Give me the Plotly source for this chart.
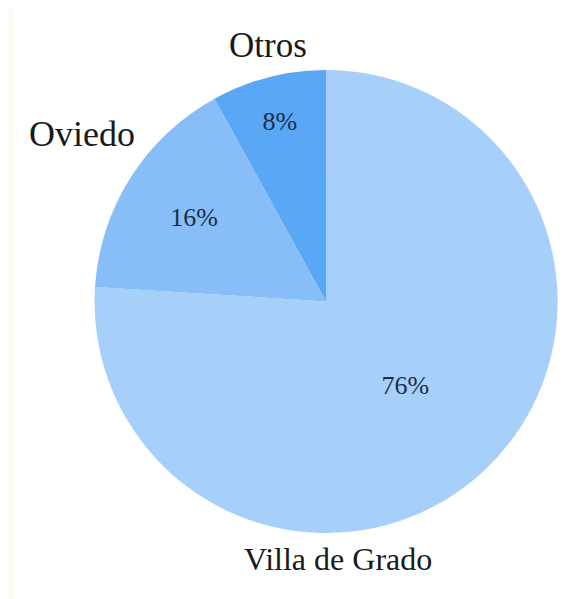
import plotly.graph_objects as go

labels = ["Villa de Grado", "Oviedo", "Otros"]
values = [76, 16, 8]
colors = ["#a6cffa", "#87bef8", "#5aa7f5"]

label_pos = {
    "Villa de Grado": (0.579, 0.080),
    "Oviedo": (0.130, 0.790),
    "Otros": (0.456, 0.938),
}
label_size = {"Villa de Grado": 32, "Oviedo": 36, "Otros": 35}

fig = go.Figure()
fig.add_trace(go.Pie(
    labels=labels,
    values=values,
    sort=False,
    direction="clockwise",
    rotation=0,
    marker=dict(colors=colors, line=dict(width=0)),
    textinfo="percent",
    texttemplate="%{percent:.0%}",
    textposition="inside",
    insidetextorientation="horizontal",
    textfont=dict(family="Liberation Serif", size=26, color="#1f2d46"),
    showlegend=False,
    hoverinfo="label+percent",
    domain=dict(x=[0.151, 0.965], y=[0.1235, 0.8965]),
))

for lab in labels:
    x, y = label_pos[lab]
    fig.add_annotation(
        x=x, y=y, xref="paper", yref="paper",
        text=lab, showarrow=False,
        xanchor="center", yanchor="middle",
        font=dict(family="Liberation Serif", size=label_size[lab], color="#1a1a1a"),
    )

fig.update_layout(
    width=570, height=599,
    margin=dict(l=0, r=0, t=0, b=0),
    paper_bgcolor="#ffffff",
    plot_bgcolor="#ffffff",
    shapes=[
        dict(type="rect", xref="paper", yref="paper", x0=0, x1=0.012, y0=0, y1=1,
             fillcolor="#fbfbf3", line=dict(width=0), layer="below"),
    ],
)

fig.write_html("out.html")
